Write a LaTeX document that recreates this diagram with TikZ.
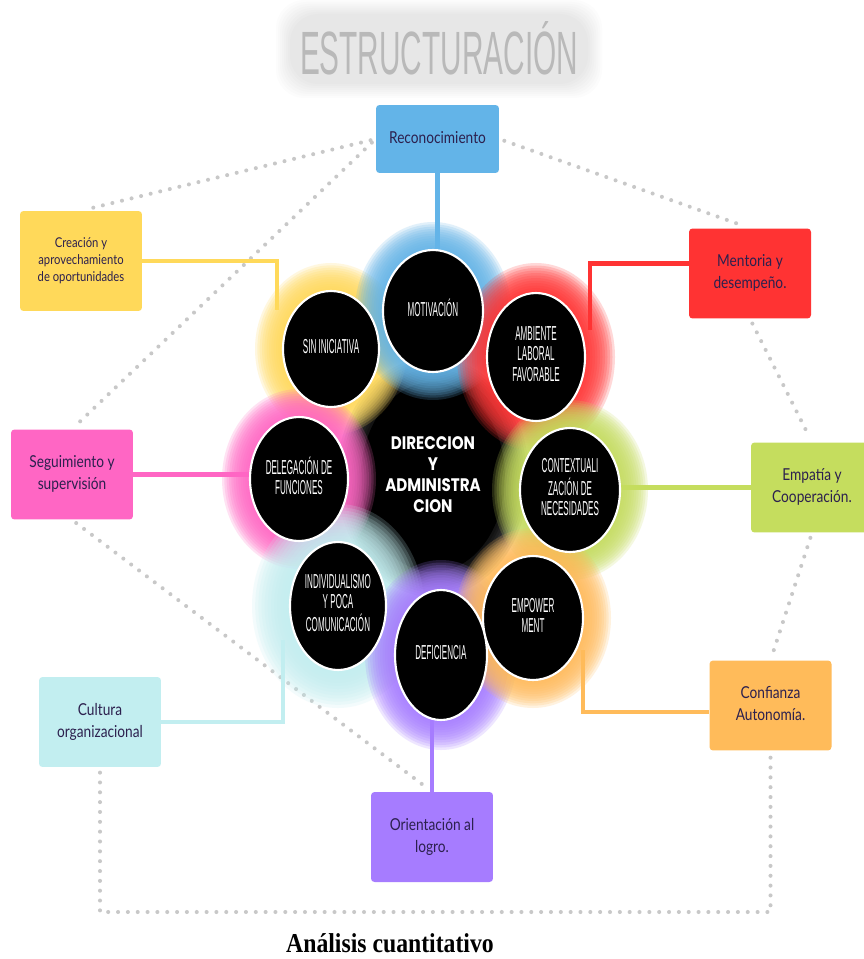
\documentclass[tikz,border=0pt]{standalone}
\usepackage{fontspec}
\setmainfont{Lato}
\newfontfamily\orbfont{Liberation Sans}
\newfontfamily\hubfont{Poppins}
\newfontfamily\titlefont{Liberation Sans}
\newfontfamily\capfont{Liberation Serif}
\usepackage{graphicx}
\usetikzlibrary{shapes.geometric, positioning}

\definecolor{ink}{RGB}{44,32,78}
\definecolor{dotgray}{RGB}{200,200,200}
\definecolor{titlegray}{RGB}{185,185,185}
\definecolor{cblue}{RGB}{99,180,232}
\definecolor{cyellow}{RGB}{255,217,90}
\definecolor{cred}{RGB}{255,51,51}
\definecolor{cpink}{RGB}{255,102,196}
\definecolor{cgreen}{RGB}{197,221,94}
\definecolor{ccyan}{RGB}{194,238,240}
\definecolor{corange}{RGB}{255,187,90}
\definecolor{cpurple}{RGB}{166,124,255}

\newcommand{\orbtext}[1]{\scalebox{0.40}[1]{\orbfont\fontsize{11.5}{11.3}\selectfont\begin{tabular}{@{}c@{}}#1\end{tabular}}}
\newcommand{\hubtext}[1]{\scalebox{1}[1.2]{\hubfont\bfseries\fontsize{8.6}{9.9}\selectfont\begin{tabular}{@{}c@{}}#1\end{tabular}}}
\newcommand{\boxtext}[1]{\scalebox{1}[1.2]{\begin{tabular}{@{}c@{}}#1\end{tabular}}}

\tikzset{
  topic/.style={rectangle, rounded corners=2pt, minimum width=2.44cm, minimum height=1.8cm, inner sep=1pt, text=ink, font=\fontsize{7.8}{10.4}\selectfont},
  orb/.style={ellipse, fill=black, draw=white, line width=1.2pt, inner sep=0pt, text=white},
  link/.style={line width=2.8pt},
  dots/.style={draw=dotgray, line width=2.3pt, line cap=round, dash pattern=on 0pt off 5.6pt, shorten <=3pt, shorten >=3pt},
}

\begin{document}
\begin{tikzpicture}[x=0.02cm, y=-0.02cm]
\fill[white] (0,0) rectangle (863,959);
\useasboundingbox (0,0) rectangle (863,959);

% title and caption
\foreach \k in {0,...,7}
  \fill[gray, opacity=0.018, rounded corners=16pt] (290-\k*2,14-\k*2) rectangle (588+\k*2,84+\k*2);
\node (title) at (439,48) {\resizebox{5.56cm}{1.06cm}{\titlefont\color{titlegray}ESTRUCTURACIÓN}};
\node (caption) at (390,943) {\scalebox{1}[1.15]{\capfont\bfseries\fontsize{13.5}{16}\selectfont Análisis cuantitativo}};

% outer boxes
\node[topic, fill=cblue, minimum width=2.46cm, minimum height=1.36cm] (recon) at (437.5,139) {\boxtext{Reconocimiento}};
\node[topic, fill=cyellow, minimum height=2.0cm, font=\fontsize{6.4}{8}\selectfont] (creacion) at (81,261) {\boxtext{Creación y\\aprovechamiento\\de oportunidades}};
\node[topic, fill=cred] (mentoria) at (750,273.5) {\boxtext{Mentoria y\\desempeño.}};
\node[topic, fill=cpink] (seguim) at (72,474.5) {\boxtext{Seguimiento y\\supervisión}};
\node[topic, fill=cgreen] (empatia) at (812,487.5) {\boxtext{Empatía y\\Cooperación.}};
\node[topic, fill=ccyan] (cultura) at (100,722) {\boxtext{Cultura\\organizacional}};
\node[topic, fill=corange] (confianza) at (770.5,705.5) {\boxtext{Confianza\\Autonomía.}};
\node[topic, fill=cpurple] (orient) at (432,837) {\boxtext{Orientación al\\logro.}};

% dotted ring
\draw[dots] (recon.west) -- (creacion.north);
\draw[dots] (recon.west) -- (seguim.north);
\draw[dots] (recon.east) -- (mentoria.north);
\draw[dots] (mentoria.south) -- (empatia.north);
\draw[dots] (empatia.south) -- (confianza.north);
\draw[dots] (seguim.south) -- (orient.north);
\coordinate (base) at (435,912);
\draw[dots] (cultura.south) |- (base) -| (confianza.south);

% disc centres
\coordinate (phub) at (433,477);
\coordinate (pmotiv) at (433,311);
\coordinate (psinini) at (331,349);
\coordinate (pambiente) at (536,357);
\coordinate (pdeleg) at (299,479);
\coordinate (pcontext) at (570,490);
\coordinate (pindiv) at (338,606);
\coordinate (pdefic) at (441,655);
\coordinate (pempow) at (533,618);

% coloured links
\coordinate (jy) at (277,310);
\coordinate (jr) at (590,330);
\coordinate (jc) at (283,640);
\coordinate (jo) at (583,650);
\draw[link, cblue] (recon.south) -- (recon.south |- pmotiv);
\draw[link, cyellow] (creacion.east) -| (jy);
\draw[link, cred] (jr) |- ([yshift=0.2cm]mentoria.west);
\draw[link, cpink] (seguim.east) -- (seguim.east -| pdeleg);
\draw[link, cgreen] (empatia.west) -- (empatia.west -| pcontext);
\draw[link, ccyan] (cultura.east) -| (jc);
\draw[link, corange] (jo) |- ([yshift=-0.13cm]confianza.west);
\draw[link, cpurple] (orient.north) -- (orient.north |- pdefic);

% centre disc, soft edge
\foreach \k in {0,...,9}
  \fill[black, opacity=0.22] (phub) ellipse [x radius=96-\k*2.4, y radius=120-\k*2.4];
\node[ellipse, fill=black, inner sep=0pt, minimum width=2.88cm, minimum height=3.8cm, text=white] (hub) at (phub) {\hubtext{DIRECCION\\Y\\ADMINISTRA\\CION}};

% halos
\foreach \p/\c/\rx/\ry/\g in {psinini/cyellow/48/58/28, pmotiv/cblue/50/61/28, pambiente/cred/49/64/30, pdeleg/cpink/49/62/28, pcontext/cgreen/50/62/28, pindiv/ccyan/48/64/38, pdefic/cpurple/46/65/30, pempow/corange/50/62/28}
  \foreach \k in {0,...,11}
    \fill[\c, opacity=0.19] (\p) ellipse [x radius=\rx+\g-\k*\g/12, y radius=\ry+\g-\k*\g/12];

% discs
\node[orb, minimum width=1.92cm, minimum height=2.32cm] (sinini) at (psinini) {\orbtext{SIN INICIATIVA}};
\node[orb, minimum width=2.0cm, minimum height=2.44cm] (motiv) at (pmotiv) {\orbtext{MOTIVACIÓN}};
\node[orb, minimum width=1.96cm, minimum height=2.56cm] (ambiente) at (pambiente) {\orbtext{AMBIENTE\\LABORAL\\FAVORABLE}};
\node[orb, minimum width=1.96cm, minimum height=2.48cm] (deleg) at (pdeleg) {\orbtext{DELEGACIÓN DE\\FUNCIONES}};
\node[orb, minimum width=2.0cm, minimum height=2.48cm] (context) at (pcontext) {\orbtext{CONTEXTUALI\\ZACIÓN DE\\NECESIDADES}};
\node[orb, minimum width=1.92cm, minimum height=2.56cm] (indiv) at (pindiv) {\orbtext{INDIVIDUALISMO\\Y POCA\\COMUNICACIÓN}};
\node[orb, minimum width=1.84cm, minimum height=2.6cm] (defic) at (pdefic) {\orbtext{DEFICIENCIA}};
\node[orb, minimum width=2.0cm, minimum height=2.48cm] (empow) at (pempow) {\orbtext{EMPOWER\\MENT}};
\end{tikzpicture}
\end{document}
